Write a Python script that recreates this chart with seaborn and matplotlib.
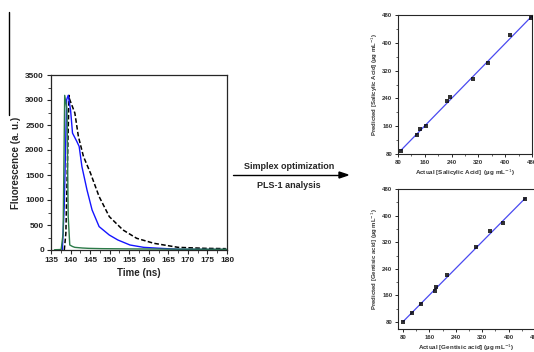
import seaborn as sns
import matplotlib.pyplot as plt
import pandas as pd
from matplotlib.ticker import MultipleLocator

# --------------------------------------------------------------
# Data
# --------------------------------------------------------------
green_t = [135.9, 137.0, 137.6, 138.1, 138.5, 139.1, 139.4, 139.8, 140.5, 141.1, 143.0, 144.6, 148.0, 155.0, 165.0, 180.0]
green_y = [5, 8, 10, 334, 3093, 2800, 668, 100, 70, 53, 40, 33, 27, 22, 18, 15]

blue_t = [137.9, 138.4, 139.0, 139.4, 140.0, 140.5, 141.6, 142.2, 142.9, 144.2, 145.5, 147.3, 149.9, 152.1, 155.2, 158.7, 163.0, 168.0, 175.0, 180.0]
blue_y = [0, 900, 3006, 3093, 2800, 2338, 2171, 2071, 1670, 1202, 802, 468, 300, 200, 100, 53, 33, 13, 10, 8]

black_t = [138.4, 138.8, 139.6, 139.8, 141.1, 142.0, 143.3, 145.1, 147.3, 149.9, 153.4, 156.9, 161.3, 167.5, 174.5, 179.7]
black_y = [0, 334, 3093, 3006, 2739, 2271, 1870, 1536, 1069, 668, 401, 234, 134, 53, 33, 27]

sal_actual = [89, 137, 146, 164, 226, 236, 303, 348, 414, 478]
sal_pred = [89, 134, 152, 161, 232, 243, 296, 341, 422, 470]

gen_actual = [81, 108, 136, 176, 180, 212, 302, 345, 382, 451]
gen_pred = [79, 107, 135, 172, 185, 222, 306, 354, 377, 449]

sns.set_style("ticks")
plt.rcParams["font.family"] = ["Liberation Sans", "DejaVu Sans"]

fig = plt.figure(figsize=(5.34, 3.52), dpi=100)

# --------------------------------------------------------------
# Left panel: fluorescence decays
# --------------------------------------------------------------
ax = fig.add_axes([51 / 534, 1 - 250 / 352, 176 / 534, 175 / 352])
sns.lineplot(x=black_t, y=black_y, ax=ax, color="black", lw=1.1, linestyle=(0, (3, 1.5)))
sns.lineplot(x=blue_t, y=blue_y, ax=ax, color="#1515ff", lw=1.0)
sns.lineplot(x=green_t, y=green_y, ax=ax, color="#2b7a48", lw=1.0)
ax.set_xlim(135, 180)
ax.set_ylim(0, 3500)
ax.set_xticks(range(135, 181, 5))
ax.set_yticks(range(0, 3501, 500))
ax.xaxis.set_minor_locator(MultipleLocator(2.5))
ax.yaxis.set_minor_locator(MultipleLocator(250))
ax.tick_params(which="major", length=3, width=0.8, labelsize=6, pad=2)
ax.tick_params(which="minor", length=2, width=0.6)
for lab in ax.get_xticklabels() + ax.get_yticklabels():
    lab.set_fontweight("bold")
    lab.set_color("#222222")
for s in ax.spines.values():
    s.set_linewidth(0.9)
ax.set_xlabel("Time (ns)", fontsize=7, fontweight="bold", labelpad=3)
ax.set_ylabel("Fluorescence (a. u.)", fontsize=7, fontweight="bold", labelpad=3)

# stray vertical line at top left
fig.add_artist(plt.Line2D([9 / 534, 9 / 534], [1 - 12 / 352, 1 - 115 / 352], color="black", lw=1.0))

# --------------------------------------------------------------
# Arrow with annotations
# --------------------------------------------------------------
fig.add_artist(plt.Line2D([233 / 534, 340 / 534], [1 - 175 / 352, 1 - 175 / 352], color="black", lw=1.0))
fig.patches.append(plt.Polygon([[339 / 534, 1 - 172 / 352], [348 / 534, 1 - 175 / 352], [339 / 534, 1 - 178 / 352]],
                               closed=True, color="black", transform=fig.transFigure))
fig.text(289 / 534, 1 - 167 / 352, "Simplex optimization", ha="center", va="center", fontsize=6.5, fontweight="bold")
fig.text(289 / 534, 1 - 186 / 352, "PLS-1 analysis", ha="center", va="center", fontsize=6.5, fontweight="bold")


# --------------------------------------------------------------
# Right panels: predicted vs actual
# --------------------------------------------------------------
def calib(rect, actual, pred, xlim, ylim, xlabel, ylabel):
    a = fig.add_axes(rect)
    df = pd.DataFrame({"actual": actual, "pred": pred})
    sns.regplot(data=df, x="actual", y="pred", ax=a, ci=None, truncate=True, marker="s",
                scatter_kws=dict(s=6, color="black", zorder=3, linewidths=0),
                line_kws=dict(color="#4a4af0", lw=0.9))
    a.set_xlim(*xlim)
    a.set_ylim(*ylim)
    a.set_xticks(range(80, 481, 80))
    a.set_yticks(range(80, 481, 80))
    a.xaxis.set_minor_locator(MultipleLocator(40))
    a.yaxis.set_minor_locator(MultipleLocator(40))
    a.tick_params(which="major", length=2.5, width=0.7, labelsize=4.3, pad=1.5)
    a.tick_params(which="minor", length=1.5, width=0.5)
    for lab in a.get_xticklabels() + a.get_yticklabels():
        lab.set_fontweight("bold")
        lab.set_color("#333333")
    for s in a.spines.values():
        s.set_linewidth(0.8)
    a.set_xlabel(xlabel, fontsize=4.5, fontweight="bold", labelpad=2, color="#333333")
    a.set_ylabel(ylabel, fontsize=4.3, fontweight="bold", labelpad=2, color="#333333")
    return a


calib([398 / 534, 1 - 154 / 352, 134 / 534, 139 / 352], sal_actual, sal_pred, (80, 480), (80, 480),
      "Actual [Salicylic Acid]  (\u00b5g mL$^{-1}$)", "Predicted [Salicylic Acid] (\u00b5g mL$^{-1}$)")
calib([398 / 534, 1 - 329 / 352, 137 / 534, 140 / 352], gen_actual, gen_pred, (65, 475), (59, 480),
      "Actual [Gentisic acid] (\u00b5g mL$^{-1}$)", "Predicted [Gentisic acid] (\u00b5g mL$^{-1}$)")

fig.savefig("out.png", dpi=100)
